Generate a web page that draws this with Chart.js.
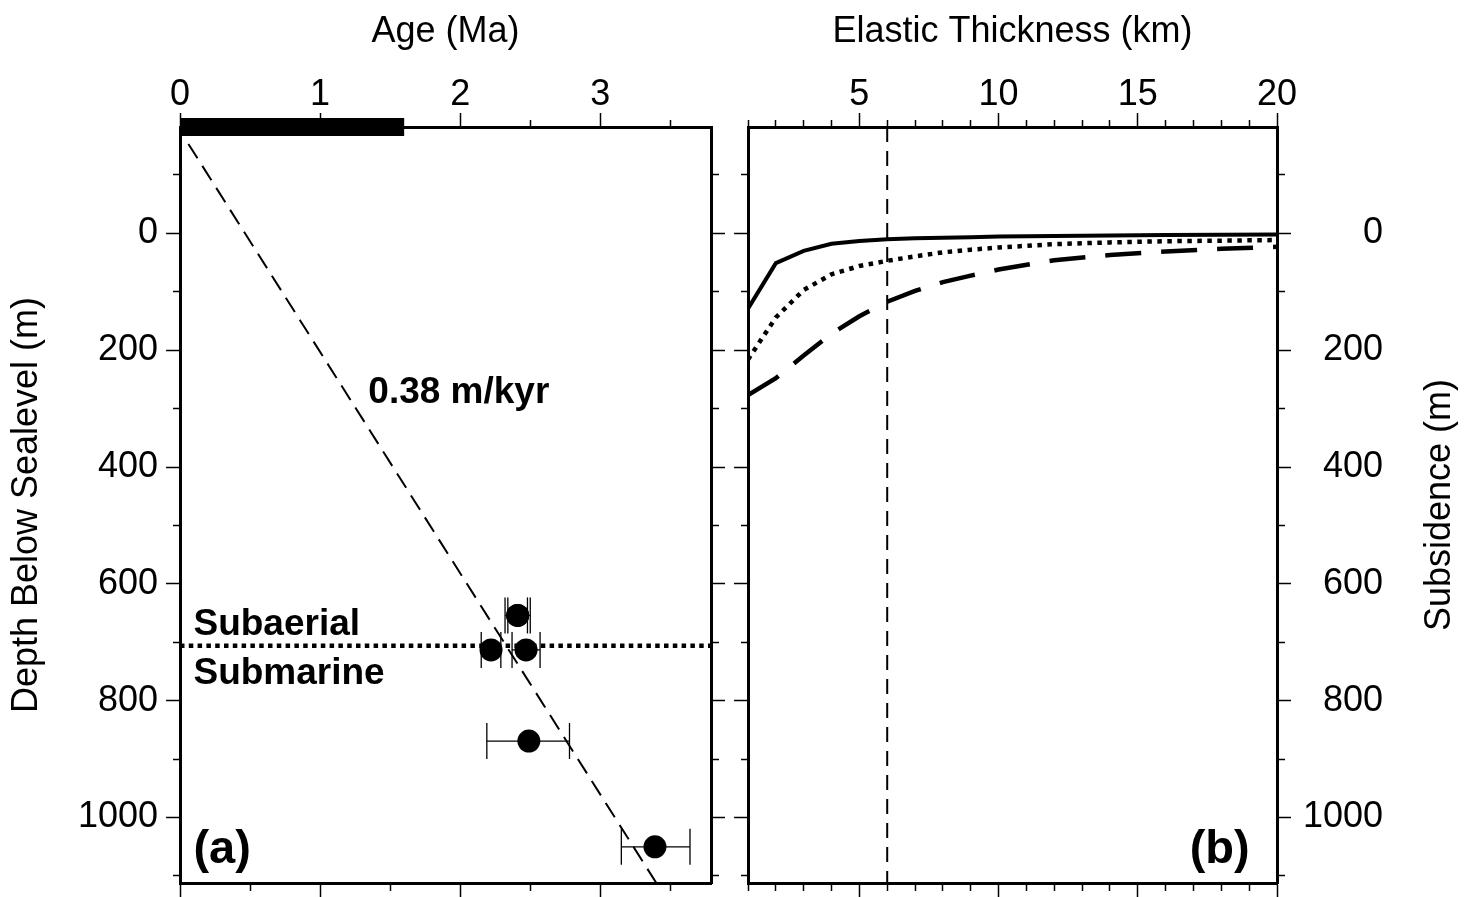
<!DOCTYPE html>
<html><head><meta charset="utf-8">
<script src="https://cdn.jsdelivr.net/npm/chart.js@4.4.0/dist/chart.umd.min.js"></script>
<style>
html,body{margin:0;padding:0;background:#fff;}
#wrap{position:relative;width:1473px;height:897px;background:#fff;}
canvas{position:absolute;left:0;top:0;}
</style></head><body>
<div id="wrap"><canvas id="ca" width="1473" height="897"></canvas><canvas id="cb" width="1473" height="897"></canvas></div>
<script>
// ---------------- data ----------------
const ageTicks = [0, 0.5, 1, 1.5, 2, 2.5, 3, 3.5];
const ageTickLabels = [0, 1, 2, 3];
const depthTicks = [-100, 0, 100, 200, 300, 400, 500, 600, 700, 800, 900, 1000, 1100];
const depthTickLabels = [0, 200, 400, 600, 800, 1000];
const thicknessTicks = [1, 2, 3, 4, 5, 6, 7, 8, 9, 10, 11, 12, 13, 14, 15, 16, 17, 18, 19, 20];
const thicknessTickLabels = [5, 10, 15, 20];

const ageRange = [0, 3.79];
const depthRange = [-182, 1112];
const thicknessRange = [1, 20];

// panel (a): dated samples
const sampleAge    = [2.41, 2.41, 2.22, 2.47, 2.49, 3.39];
const sampleDepth  = [654, 654, 713, 713, 869, 1050];
const sampleAgeMin = [2.32, 2.34, 2.15, 2.37, 2.19, 3.15];
const sampleAgeMax = [2.50, 2.48, 2.29, 2.57, 2.78, 3.64];

const subaerialAge = [0, 1.6];          // black bar on the age axis
const fitAge = [0.06, 3.40];            // subsidence-rate line
const fitDepth = [-153, 1112];
const shorelineDepth = 706;             // subaerial / submarine transition
const rateLabel = '0.38 m/kyr';

// panel (b): subsidence vs elastic thickness
const elasticThickness = [1, 2, 3, 4, 5, 6, 7, 8, 9, 10, 12, 14, 16, 18, 20];
const subsidenceSolid  = [129, 51, 30, 18, 13, 10, 8.5, 7.5, 6.5, 5.5, 4.5, 3.5, 3, 2.5, 2];
const subsidenceDotted = [216, 144, 97, 70, 56, 47, 39.5, 32.5, 28, 24.3, 18.5, 15.5, 13.5, 12.5, 11.5];
const subsidenceDashed = [277, 248, 209, 172, 142, 117, 98.5, 83.5, 72.3, 62, 46, 37, 31, 26.5, 23];
const preferredThickness = 6;

// ---------------- chart setup ----------------
const FONT = "'Liberation Sans', Arial, Helvetica, sans-serif";
const FS = 36;
Chart.defaults.font.family = FONT;
Chart.defaults.color = '#000';

function axisCfg(o) {
  const horiz = o.position === 'top' || o.position === 'bottom';
  const outerFirst = o.position === 'top' || o.position === 'left';
  return {
    type: 'linear',
    position: o.position,
    min: o.range[0], max: o.range[1],
    reverse: !!o.reverse,
    afterBuildTicks: s => { s.ticks = o.ticks.map(v => ({ value: v })); },
    afterFit: s => {
      if (horiz) s.height = o.size; else s.width = o.size;
      s.paddingTop = 0; s.paddingBottom = 0; s.paddingLeft = 0; s.paddingRight = 0;
    },
    grid: {
      display: true, drawOnChartArea: false, drawTicks: true,
      tickLength: 14, tickWidth: 1.5, tickColor: '#000',
      tickBorderDash: ctx => (ctx.tick && o.labels.includes(ctx.tick.value)) ? [] : (outerFirst ? [0, 7, 7, 100] : [6, 100])
    },
    border: { display: true, color: '#000', width: 3 },
    ticks: {
      display: !!o.showLabels, autoSkip: false, maxRotation: 0, minRotation: 0,
      padding: o.padding || 0, crossAlign: o.crossAlign || 'near',
      color: '#000', font: { size: FS, lineHeight: 1 },
      callback: v => o.labels.includes(v) ? String(v) : ''
    },
    title: o.title ? { display: true, text: o.title, color: '#000', font: { size: FS, lineHeight: 1 }, padding: { top: o.titlePad, bottom: 0 } } : { display: false }
  };
}

function baseOpts(pad) {
  return {
    responsive: false, maintainAspectRatio: false, animation: false, devicePixelRatio: 1,
    events: [],
    layout: { padding: pad, autoPadding: false },
    plugins: { legend: { display: false }, tooltip: { enabled: false } }
  };
}

// ----- panel (a) -----
const dsA = [];
dsA.push({
  label: 'samples', data: sampleAge.map((a, i) => ({ x: a, y: sampleDepth[i] })),
  showLine: false, pointRadius: 11.5, pointBackgroundColor: '#000', pointBorderColor: '#000', pointBorderWidth: 0
});
sampleAge.forEach((a, i) => {
  dsA.push({
    label: 'err' + i,
    data: [{ x: sampleAgeMin[i], y: sampleDepth[i] }, { x: sampleAgeMax[i], y: sampleDepth[i] }],
    showLine: true, borderColor: '#000', borderWidth: 1.3,
    pointStyle: 'line', pointRotation: 90, pointRadius: 18, pointBorderWidth: 1.3, pointBorderColor: '#000', pointBackgroundColor: '#000'
  });
});
dsA.push({
  label: 'fit', data: fitAge.map((a, i) => ({ x: a, y: fitDepth[i] })),
  showLine: true, borderColor: '#000', borderWidth: 2, borderDash: [17, 9], pointRadius: 0
});
dsA.push({
  label: 'shoreline', data: [{ x: ageRange[0], y: shorelineDepth }, { x: ageRange[1], y: shorelineDepth }],
  showLine: true, borderColor: '#000', borderWidth: 4.5, borderDash: [4.5, 4.3], pointRadius: 0
});
dsA.push({
  label: 'subaerial', data: subaerialAge.map(a => ({ x: a, y: depthRange[0] })),
  showLine: true, borderColor: '#000', borderWidth: 18, pointRadius: 0, clip: false
});

const textA = {
  id: 'textA',
  afterDatasetsDraw(chart) {
    const { ctx } = chart; const x = chart.scales.x, y = chart.scales.y;
    ctx.save();
    ctx.fillStyle = '#000'; ctx.textBaseline = 'alphabetic'; ctx.textAlign = 'left';
    ctx.font = 'bold 37px ' + FONT;
    ctx.fillText(rateLabel, x.getPixelForValue(1.344), y.getPixelForValue(291));
    ctx.fillText('Subaerial', x.getPixelForValue(0.096), y.getPixelForValue(688));
    ctx.fillText('Submarine', x.getPixelForValue(0.096), y.getPixelForValue(771));
    ctx.font = 'bold 47px ' + FONT;
    ctx.fillText('(a)', x.getPixelForValue(0.096), y.getPixelForValue(1078));
    ctx.restore();
  }
};

new Chart(document.getElementById('ca'), {
  type: 'scatter',
  data: { datasets: dsA },
  options: Object.assign(baseOpts(0), {
    scales: {
      x: axisCfg({ position: 'top', range: ageRange, ticks: ageTicks, labels: ageTickLabels, size: 127, showLabels: true, padding: 0, title: 'Age (Ma)', titlePad: 14.5 }),
      xb: axisCfg({ position: 'bottom', range: ageRange, ticks: ageTicks, labels: ageTickLabels, size: 14 }),
      y: axisCfg({ position: 'left', range: depthRange, reverse: true, ticks: depthTicks, labels: depthTickLabels, size: 180, showLabels: true, padding: 8, title: 'Depth Below Sealevel (m)', titlePad: 9.5 }),
      yr: axisCfg({ position: 'right', range: depthRange, reverse: true, ticks: depthTicks, labels: depthTickLabels, size: 1473 - 711 })
    }
  }),
  plugins: [textA]
});

// ----- panel (b) -----
const toPts = arr => elasticThickness.map((t, i) => ({ x: t, y: arr[i] }));
const dsB = [
  { label: 'solid', data: toPts(subsidenceSolid), showLine: true, borderColor: '#000', borderWidth: 4, pointRadius: 0 },
  { label: 'dotted', data: toPts(subsidenceDotted), showLine: true, borderColor: '#000', borderWidth: 4.5, borderDash: [4.5, 5.5], pointRadius: 0 },
  { label: 'dashed', data: toPts(subsidenceDashed), showLine: true, borderColor: '#000', borderWidth: 4.5, borderDash: [36, 20], pointRadius: 0 },
  { label: 'Te', data: [{ x: preferredThickness, y: depthRange[0] }, { x: preferredThickness, y: depthRange[1] }], showLine: true, borderColor: '#000', borderWidth: 2, borderDash: [15, 9], pointRadius: 0 }
];

const textB = {
  id: 'textB',
  afterDatasetsDraw(chart) {
    const { ctx, chartArea } = chart; const x = chart.scales.x, y = chart.scales.y;
    ctx.save();
    ctx.fillStyle = '#000';
    ctx.font = 'bold 47px ' + FONT; ctx.textAlign = 'right'; ctx.textBaseline = 'alphabetic';
    ctx.fillText('(b)', x.getPixelForValue(19.02), y.getPixelForValue(1078));
    ctx.translate(1440, (chartArea.top + chartArea.bottom) / 2);
    ctx.rotate(-Math.PI / 2);
    ctx.font = FS + 'px ' + FONT; ctx.textAlign = 'center'; ctx.textBaseline = 'middle';
    ctx.fillText('Subsidence (m)', 0, 0);
    ctx.restore();
  }
};

new Chart(document.getElementById('cb'), {
  type: 'scatter',
  data: { datasets: dsB },
  options: Object.assign(baseOpts({ left: 0, top: 0, bottom: 0, right: 90 }), {
    scales: {
      x: axisCfg({ position: 'top', range: thicknessRange, ticks: thicknessTicks, labels: thicknessTickLabels, size: 127, showLabels: true, padding: 0, title: 'Elastic Thickness (km)', titlePad: 14.5 }),
      xb: axisCfg({ position: 'bottom', range: thicknessRange, ticks: thicknessTicks, labels: thicknessTickLabels, size: 14 }),
      y: axisCfg({ position: 'left', range: depthRange, reverse: true, ticks: depthTicks, labels: depthTickLabels, size: 748 }),
      yr: axisCfg({ position: 'right', range: depthRange, reverse: true, ticks: depthTicks, labels: depthTickLabels, size: 106, showLabels: true, padding: 14, crossAlign: 'far' })
    }
  }),
  plugins: [textB]
});
</script>
</body></html>
